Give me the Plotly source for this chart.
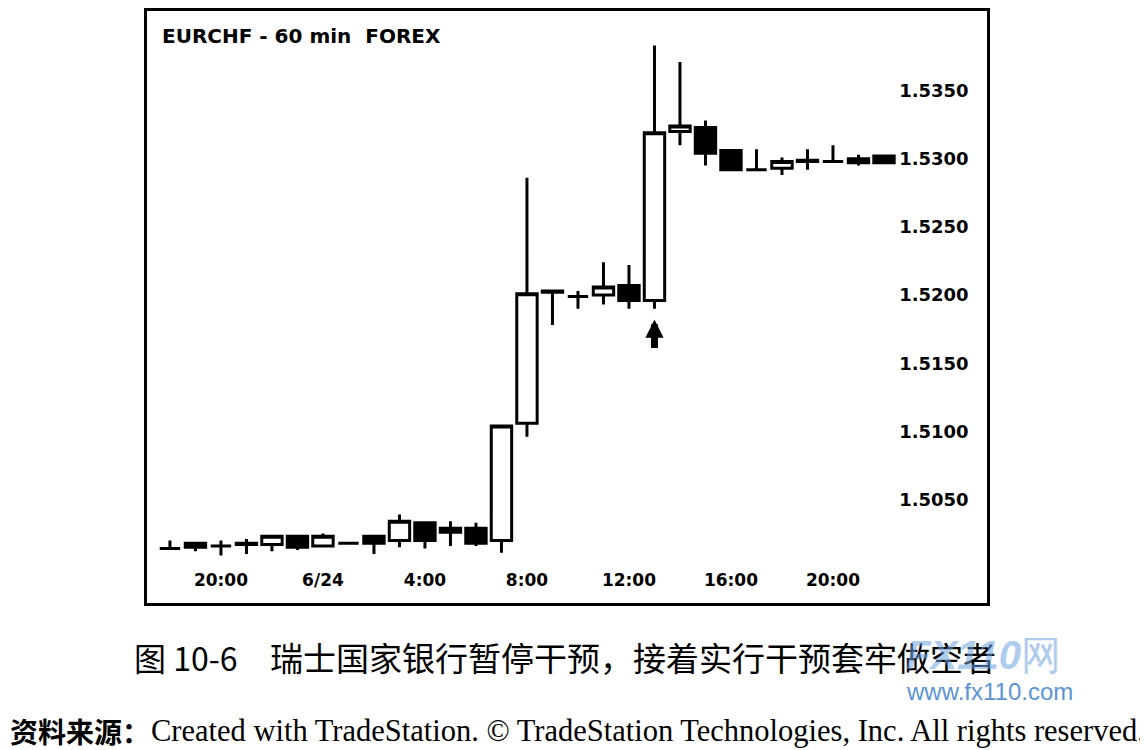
import plotly.graph_objects as go

# ── data: EURCHF 60-min bars, 6/23 18:00 → 6/24 22:00 ─────────────────────
hours = ["18:00", "19:00", "20:00", "21:00", "22:00", "23:00",
         "0:00", "1:00", "2:00", "3:00", "4:00", "5:00", "6:00", "7:00",
         "8:00", "9:00", "10:00", "11:00", "12:00", "13:00", "14:00",
         "15:00", "16:00", "17:00", "18:00", "19:00", "20:00", "21:00", "22:00"]

opens = [1.5014, 1.5018, 1.5016, 1.5017, 1.5017, 1.5023, 1.5016, 1.5018,
         1.5023, 1.5020, 1.5033, 1.5026, 1.5029, 1.5020, 1.5106, 1.5202,
         1.5199, 1.5200, 1.5207, 1.5196, 1.5320, 1.5323, 1.5306, 1.5292,
         1.5293, 1.5298, 1.5298, 1.5300, 1.5302]
highs = [1.5020, 1.5019, 1.5020, 1.5021, 1.5024, 1.5024, 1.5025, 1.5019,
         1.5023, 1.5039, 1.5033, 1.5034, 1.5033, 1.5104, 1.5286, 1.5203,
         1.5203, 1.5224, 1.5222, 1.5383, 1.5371, 1.5328, 1.5306, 1.5307,
         1.5301, 1.5307, 1.5310, 1.5303, 1.5303]
lows = [1.5014, 1.5012, 1.5009, 1.5010, 1.5012, 1.5013, 1.5016, 1.5018,
        1.5010, 1.5015, 1.5014, 1.5016, 1.5016, 1.5011, 1.5096, 1.5178,
        1.5190, 1.5193, 1.5190, 1.5190, 1.5310, 1.5295, 1.5292, 1.5292,
        1.5288, 1.5292, 1.5297, 1.5295, 1.5297]
closes = [1.5014, 1.5015, 1.5016, 1.5018, 1.5023, 1.5015, 1.5023, 1.5018,
          1.5018, 1.5034, 1.5020, 1.5029, 1.5018, 1.5104, 1.5201, 1.5203,
          1.5199, 1.5206, 1.5196, 1.5319, 1.5324, 1.5304, 1.5292, 1.5292,
          1.5298, 1.5299, 1.5298, 1.5297, 1.5297]

tick_pos = [2, 6, 10, 14, 18, 22, 26]
tick_text = ["20:00", "6/24", "4:00", "8:00", "12:00", "16:00", "20:00"]
price_ticks = [1.5050, 1.5100, 1.5150, 1.5200, 1.5250, 1.5300, 1.5350]

arrow_bar = 19   # SNB intervention bar (13:00)

# the page body adds an 8px margin, so the figure is 8px smaller than the window
OFF = 8
FW, FH = 1148 - OFF, 750 - OFF


def px(x):
    return (x - OFF) / FW


def py(y):
    return 1 - (y - OFF) / FH


BOLD = dict(family="DejaVu Sans", color="black", weight="bold")

fig = go.Figure(go.Candlestick(
    x=list(range(len(hours))), open=opens, high=highs, low=lows, close=closes,
    text=hours,
    increasing=dict(fillcolor="white", line=dict(color="black", width=3)),
    decreasing=dict(fillcolor="black", line=dict(color="black", width=3)),
    whiskerwidth=0, showlegend=False,
))

fig.update_layout(
    width=FW, height=FH, margin=dict(l=0, r=0, t=0, b=0),
    paper_bgcolor="white", plot_bgcolor="white",
    boxgap=0.2, boxgroupgap=0,
    xaxis=dict(
        domain=[px(147), px(987)], range=[-0.9, 32.04],
        rangeslider=dict(visible=False),
        tickvals=tick_pos, ticktext=tick_text, ticks="",
        ticklabelposition="inside", ticklabelstandoff=14,
        tickfont=dict(size=17, **BOLD),
        showline=True, linecolor="black", linewidth=3, mirror=True,
        showgrid=False, zeroline=False,
    ),
    yaxis=dict(
        domain=[py(602), py(8)], range=[1.49744, 1.54084],
        side="right", tickvals=price_ticks,
        ticktext=[f"{p:.4f}" for p in price_ticks], ticks="",
        ticklabelposition="inside", ticklabelstandoff=19,
        tickfont=dict(size=18, **BOLD),
        showline=True, linecolor="black", linewidth=3, mirror=True,
        showgrid=False, zeroline=False,
    ),
)

# chart title inside the frame
fig.add_annotation(text="EURCHF - 60 min  FOREX", xref="paper", yref="paper",
                   x=px(160), y=py(33), xanchor="left", yanchor="middle",
                   showarrow=False, font=dict(size=20, **BOLD))

# arrow under the intervention bar
fig.add_annotation(x=arrow_bar, y=lows[arrow_bar] - 0.0008, text="",
                   showarrow=True, ax=0, ay=30, arrowhead=2, arrowsize=0.52,
                   arrowwidth=7, arrowcolor="black")

# caption
fig.add_annotation(text="图 10-6", xref="paper", yref="paper",
                   x=px(132), y=py(657), xanchor="left", yanchor="middle",
                   showarrow=False,
                   font=dict(family="Noto Sans CJK SC", size=32, color="black"))
fig.add_annotation(text="瑞士国家银行暂停干预，接着实行干预套牢做空者",
                   xref="paper", yref="paper",
                   x=px(268), y=py(657), xanchor="left", yanchor="middle",
                   showarrow=False,
                   font=dict(family="Noto Sans CJK SC", size=33, color="black"))

# watermark
fig.add_annotation(text="<i><b>FX110</b></i>网", xref="paper", yref="paper",
                   x=px(905), y=py(655), xanchor="left", yanchor="middle",
                   showarrow=False, opacity=0.55, borderpad=0,
                   font=dict(family="Liberation Sans", size=40, color="#6fa3e0"))
fig.add_annotation(text="www.fx110.com", xref="paper", yref="paper",
                   x=px(905), y=py(691), xanchor="left", yanchor="middle",
                   showarrow=False, borderpad=0,
                   font=dict(family="Liberation Sans", size=24, color="#5b93d6"))

# source line
fig.add_annotation(text="资料来源：", xref="paper", yref="paper",
                   x=px(OFF), y=py(731), xanchor="left", yanchor="middle",
                   showarrow=False,
                   font=dict(family="Noto Sans CJK SC", size=28, color="black",
                             weight="bold"))
fig.add_annotation(text="Created with TradeStation. © TradeStation Technologies, Inc. All rights reserved.",
                   xref="paper", yref="paper",
                   x=px(149), y=py(731), xanchor="left", yanchor="middle",
                   showarrow=False,
                   font=dict(family="Liberation Serif", size=30.5, color="black"))

fig.write_html("out.html")
